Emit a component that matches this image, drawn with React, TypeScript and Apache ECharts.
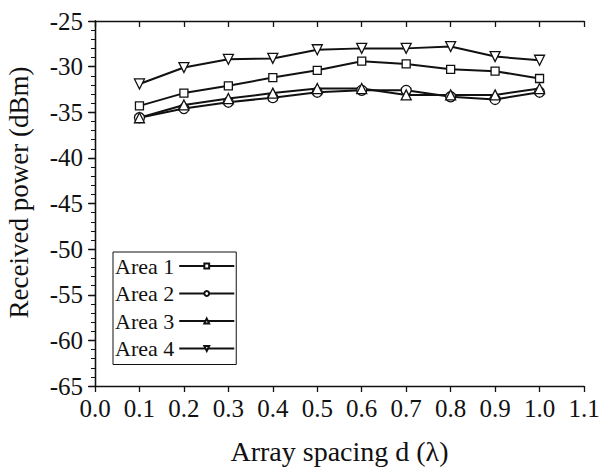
import React, { useEffect, useRef } from "react";
import * as echarts from "echarts";

const xValues = [0.1, 0.2, 0.3, 0.4, 0.5, 0.6, 0.7, 0.8, 0.9, 1.0];
const area1 = [-34.3, -32.9, -32.1, -31.2, -30.4, -29.4, -29.7, -30.3, -30.5, -31.3];
const area2 = [-35.6, -34.6, -33.9, -33.4, -32.8, -32.6, -32.6, -33.3, -33.6, -32.8];
const area3 = [-35.6, -34.2, -33.5, -32.9, -32.4, -32.4, -33.1, -33.1, -33.1, -32.4];
const area4 = [-31.9, -30.1, -29.2, -29.1, -28.15, -28.0, -28.0, -27.8, -28.9, -29.3];
const seriesNames = ["Area 1", "Area 2", "Area 3", "Area 4"];

const FONT = "Liberation Serif";

export default function App() {
  const ref = useRef<HTMLDivElement>(null);
  useEffect(() => {
    if (!ref.current) return;
    const chart = echarts.init(ref.current, null, { renderer: "svg" });
    const mk = (name: string, data: number[], symbol: string, rotate: number) => ({
      name,
      type: "line",
      xAxisIndex: 0,
      yAxisIndex: 0,
      data: xValues.map((x, i) => [x, data[i]]),
      symbol,
      symbolSize: symbol === "rect" ? 8 : 10,
      symbolRotate: rotate,
      lineStyle: { color: "#111", width: 2 },
      itemStyle: { color: "#fff", borderColor: "#111", borderWidth: 1.3 },
      z: 3,
    });
    chart.setOption({
      animation: false,
      backgroundColor: "#fff",
      grid: { left: 95, right: 18, top: 21, bottom: 88, containLabel: false, outerBoundsMode: "none" },
      legend: {
        left: 113,
        top: 252,
        orient: "vertical",
        align: "right",
        itemWidth: 55,
        itemHeight: 6,
        itemGap: 5.5,
        padding: [3, 1, 5, 2],
        borderColor: "#111",
        borderWidth: 1,
        backgroundColor: "#fff",
        data: seriesNames,
        textStyle: { fontFamily: FONT, fontSize: 22, color: "#111", padding: [0, 0, 0, 0] },
      },
      xAxis: [
        {
          type: "value",
          position: "bottom",
          min: 0,
          max: 1.1,
          interval: 0.1,
          axisLine: { show: true, lineStyle: { color: "#111", width: 1.3 } },
          axisTick: { show: true, inside: false, length: 6, lineStyle: { color: "#111", width: 1.3 } },
          axisLabel: {
            fontFamily: FONT,
            fontSize: 25,
            color: "#111",
            margin: 10,
            formatter: (v: number) => v.toFixed(1),
          },
          splitLine: { show: false },
          name: "Array spacing d (\u03bb)",
          nameLocation: "middle",
          nameGap: 51,
          nameTextStyle: { fontFamily: FONT, fontSize: 28, color: "#111" },
        },
        {
          type: "value",
          position: "top",
          min: 0,
          max: 1.1,
          interval: 0.1,
          axisLine: { show: true, lineStyle: { color: "#111", width: 1.3 } },
          axisTick: { show: true, inside: true, length: 6, lineStyle: { color: "#111", width: 1.3 } },
          axisLabel: { show: false },
          splitLine: { show: false },
        },
      ],
      yAxis: [
        {
          type: "value",
          position: "left",
          min: -65,
          max: -25,
          interval: 5,
          axisLine: { show: true, lineStyle: { color: "#111", width: 1.3 } },
          axisTick: { show: true, inside: false, length: 7, lineStyle: { color: "#111", width: 1.3 } },
          minorTick: { show: true, splitNumber: 5, length: 4, lineStyle: { color: "#111", width: 1 } },
          axisLabel: { fontFamily: FONT, fontSize: 25, color: "#111", margin: 12 },
          splitLine: { show: false },
          name: "Received power (dBm)",
          nameLocation: "middle",
          nameGap: 63,
          nameTextStyle: { fontFamily: FONT, fontSize: 27, color: "#111", padding: [0, 0, 0, 22] },
        },
        {
          type: "value",
          position: "right",
          min: -65,
          max: -25,
          interval: 5,
          axisLine: { show: true, lineStyle: { color: "#111", width: 1.3 } },
          axisTick: { show: true, inside: true, length: 6, lineStyle: { color: "#111", width: 1.3 } },
          minorTick: { show: true, splitNumber: 5, length: 4, lineStyle: { color: "#111", width: 1 } },
          axisLabel: { show: false },
          splitLine: { show: false },
        },
      ],
      series: [
        mk(seriesNames[0], area1, "rect", 0),
        mk(seriesNames[1], area2, "circle", 0),
        mk(seriesNames[2], area3, "triangle", 0),
        mk(seriesNames[3], area4, "triangle", 180),
      ],
    });
    return () => chart.dispose();
  }, []);
  return (
    <div
      ref={ref}
      style={{ position: "fixed", left: 0, top: 0, width: 602, height: 474, background: "#fff" }}
    />
  );
}
